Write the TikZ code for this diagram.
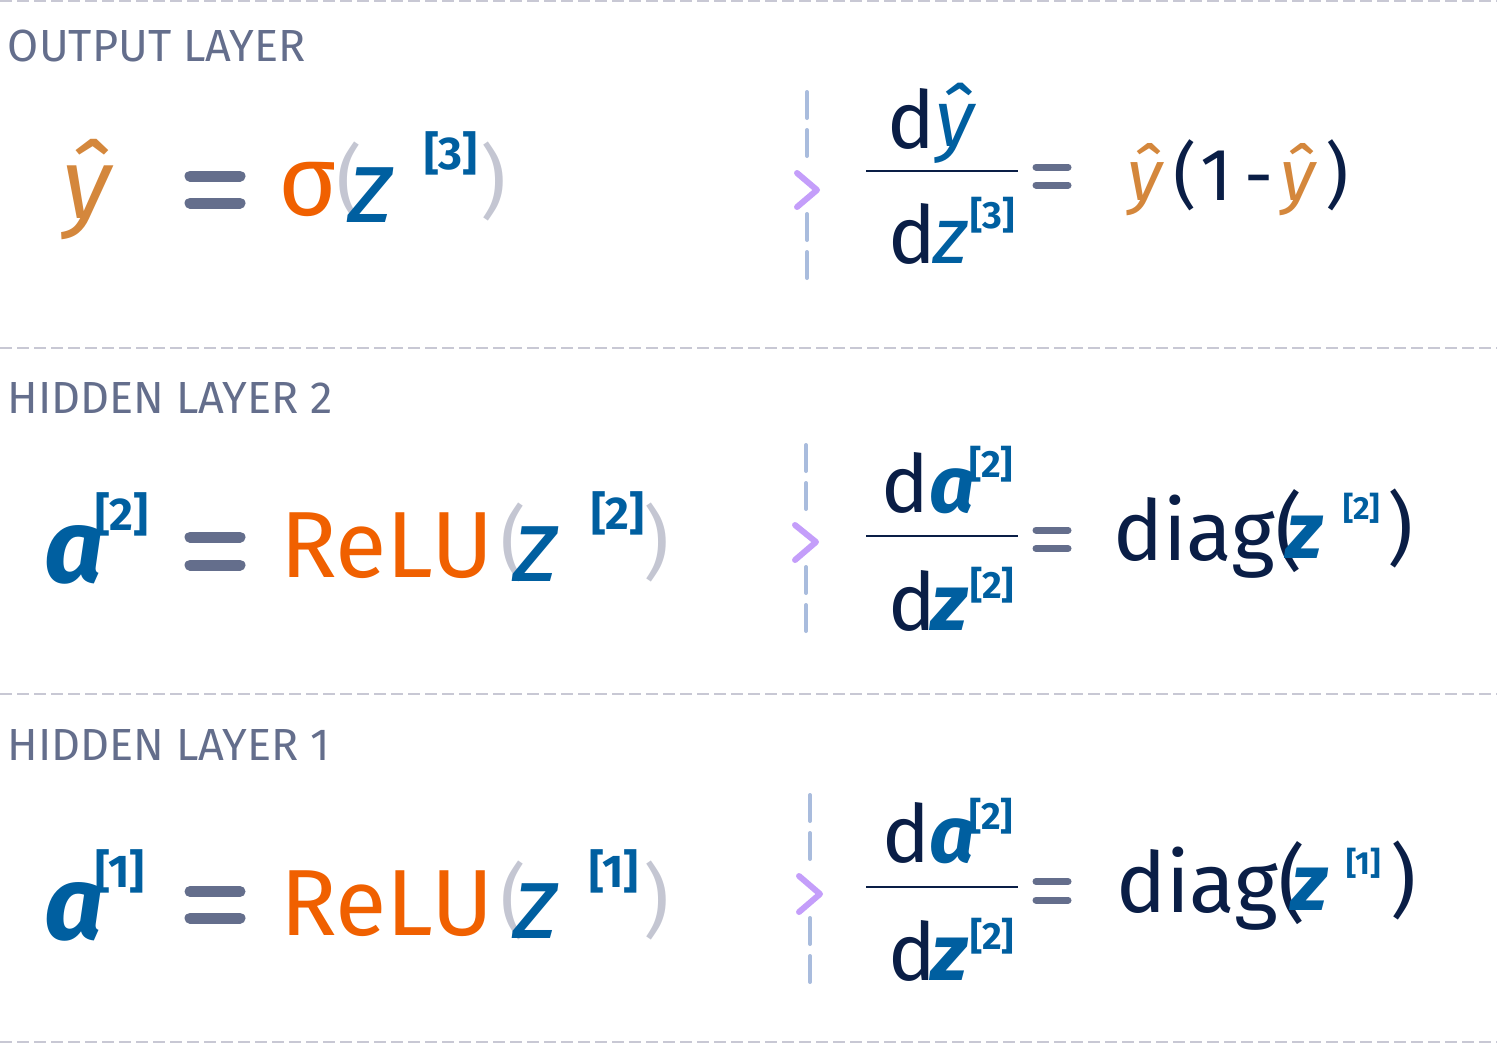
\documentclass[tikz,border=0pt]{standalone}
\usepackage{fontspec}
\setmainfont{Fira Sans}
\definecolor{slate}{HTML}{646E8C}
\definecolor{sepgray}{HTML}{C8C8D4}
\definecolor{parengray}{HTML}{C4C6D2}
\definecolor{guideblue}{HTML}{A9BCDD}
\definecolor{chevpurple}{HTML}{C49EFA}
\definecolor{hatorange}{HTML}{D4873C}
\definecolor{reluorange}{HTML}{F06000}
\definecolor{zblue}{HTML}{005FA0}
\definecolor{navy}{HTML}{0A1E46}
\newcommand\fsz[1]{\fontsize{#1}{#1}\selectfont}
\tikzset{
  txt/.style={anchor=base west, inner sep=0pt, outer sep=0pt},
  layerlabel/.style={txt, text=slate, font=\fsz{22.5}},
  sep/.style={draw=sepgray, line width=1pt, dash pattern=on 6pt off 2.5pt},
  guide/.style={draw=guideblue, line width=2pt, line cap=round, dash pattern=on 13pt off 6pt},
  chev/.style={draw=chevpurple, line width=3pt, line cap=round, line join=round},
  eqbar/.style={draw=slate, line width=5.5pt, line cap=round},
  eqsmall/.style={draw=slate, line width=3.5pt, line cap=round},
  fracline/.style={draw=navy, line width=1.2pt},
  paren/.style={txt, text=parengray, font=\fsz{40}},
  bigvar/.style={txt, text=zblue, font=\fsz{52}\itshape},
  bigsup/.style={txt, text=zblue, font=\fsz{23}\bfseries},
  dvar/.style={txt, text=navy, font=\fsz{40}},
  dsup/.style={txt, text=zblue, font=\fsz{19}\bfseries},
}
\begin{document}
\begin{tikzpicture}[x=0.5pt,y=-0.5pt]
  \useasboundingbox (0,0) rectangle (1497,1044);
  \foreach \yy in {1,348,694,1042} \draw[sep] (0,\yy) -- (1497,\yy); %区切り線

  \node[layerlabel] (lblOut) at (8,61) {OUTPUT LAYER};
  \node[layerlabel] (lblHidB) at (8,413) {HIDDEN LAYER 2};
  \node[layerlabel] (lblHidA) at (8,760) {HIDDEN LAYER 1}; %見出し

  % output layer, left
  \node[txt, text=hatorange, font=\fsz{50}\itshape] (yhatOut) at (62,218) {ŷ};
  \draw[eqbar] (190,176) -- (240,176) (190,203) -- (240,203);
  \node[txt, text=reluorange, font=\fsz{50}] (sigma) at (278,215) {σ};
  \node[paren] (popenOut) at (336,209) {(};
  \node[bigvar] (zOut) at (348,222) {z};
  \node[bigsup] (supOut) at (424,169) {[3]};
  \node[paren] (pcloseOut) at (480,209) {)};

  % output layer, right
  \draw[guide] (807,92) -- (807,158) (807,214) -- (807,288);
  \draw[chev] (797,173) -- (817,190) -- (797,207);
  \node[dvar] (dTopOut) at (887,148) {d};
  \node[dvar, text=zblue, font=\fsz{40}\itshape] (yhatTop) at (935,146) {ŷ};
  \draw[fracline] (866,171) -- (1018,171);
  \node[dvar] (dBotOut) at (888,263) {d};
  \node[dvar, text=zblue, font=\fsz{40}\itshape] (zBotOut) at (933,263) {z};
  \node[dsup] (supBotOut) at (970,228) {[3]};
  \draw[eqsmall] (1036,167) -- (1068,167) (1036,185) -- (1068,185);
  \node[txt, text=hatorange, font=\fsz{36}\itshape] (yhatR1) at (1127,200) {ŷ};
  \node[txt, text=navy, font=\fsz{36}] (popenR1) at (1173,200) {(};
  \node[txt, text=navy, font=\fsz{37}] (oneR1) at (1200,200) {1};
  \node[txt, text=navy, font=\fsz{36}] (minusR1) at (1244,200) {-};
  \node[txt, text=hatorange, font=\fsz{36}\itshape] (yhatR2) at (1280,200) {ŷ};
  \node[txt, text=navy, font=\fsz{36}] (pcloseR1) at (1325,200) {)};

  % hidden layer 2, left
  \node[bigvar, font=\fsz{52}\bfseries\itshape] (aHidB) at (44,582) {a};
  \node[bigsup] (supAB) at (95,530) {[2]};
  \draw[eqbar] (190,537) -- (240,537) (190,565) -- (240,565);
  \node[txt, text=reluorange, font=\fsz{47}] (reluB) at (280,577) {ReLU};
  \node[paren] (popenB) at (500,570) {(};
  \node[bigvar] (zB) at (513,581) {z};
  \node[bigsup] (supZB) at (591,529) {[2]};
  \node[paren] (pcloseB) at (643,570) {)};

  % hidden layer 2, right
  \draw[guide] (806,445) -- (806,511) (806,567) -- (806,640);
  \draw[chev] (795,525) -- (816,542) -- (795,560);
  \node[dvar] (dTopB) at (881,512) {d};
  \node[dvar, text=zblue, font=\fsz{40}\bfseries\itshape] (aTopB) at (929,512) {a};
  \node[dsup] (supTopB) at (969,477) {[2]};
  \draw[fracline] (866,536) -- (1018,536);
  \node[dvar] (dBotB) at (888,630) {d};
  \node[dvar, text=zblue, font=\fsz{40}\bfseries\itshape] (zBotB) at (931,630) {z};
  \node[dsup] (supBotB) at (970,598) {[2]};
  \draw[eqsmall] (1036,530) -- (1068,530) (1036,548.5) -- (1068,548.5);
  \node[dvar, font=\fsz{42}] (diagB) at (1113,560) {diag(};
  \node[dvar, text=zblue, font=\fsz{40}\bfseries\itshape] (zDiagB) at (1286,558) {z};
  \node[dsup, font=\fsz{16}\bfseries] (supDiagB) at (1343,519) {[2]};
  \node[dvar] (pcloseDiagB) at (1387,556) {)};

  % hidden layer 1, left
  \node[bigvar, font=\fsz{52}\bfseries\itshape] (aHidA) at (44,939) {a};
  \node[bigsup] (supAA) at (95,887) {[1]};
  \draw[eqbar] (190,891.5) -- (240,891.5) (190,918) -- (240,918);
  \node[txt, text=reluorange, font=\fsz{47}] (reluA) at (280,935) {ReLU};
  \node[paren] (popenA) at (500,928) {(};
  \node[bigvar] (zA) at (513,938) {z};
  \node[bigsup] (supZA) at (589,887) {[1]};
  \node[paren] (pcloseA) at (643,928) {)};

  % hidden layer 1, right
  \draw[guide] (810,795) -- (810,861) (810,918) -- (810,992);
  \draw[chev] (799,876) -- (820,894) -- (799,912);
  \node[dvar] (dTopA) at (882,862) {d};
  \node[dvar, text=zblue, font=\fsz{40}\bfseries\itshape] (aTopA) at (929,862) {a};
  \node[dsup] (supTopA) at (969,829) {[2]};
  \draw[fracline] (866,887) -- (1018,887);
  \node[dvar] (dBotA) at (888,980) {d};
  \node[dvar, text=zblue, font=\fsz{40}\bfseries\itshape] (zBotA) at (931,980) {z};
  \node[dsup] (supBotA) at (970,949) {[2]};
  \draw[eqsmall] (1036,881.5) -- (1068,881.5) (1036,900) -- (1068,900);
  \node[dvar, font=\fsz{42}] (diagA) at (1116,912) {diag(};
  \node[dvar, text=zblue, font=\fsz{40}\bfseries\itshape] (zDiagA) at (1291,910) {z};
  \node[dsup, font=\fsz{16}\bfseries] (supDiagA) at (1346,874) {[1]};
  \node[dvar] (pcloseDiagA) at (1390,908) {)};
\end{tikzpicture}
\end{document}
